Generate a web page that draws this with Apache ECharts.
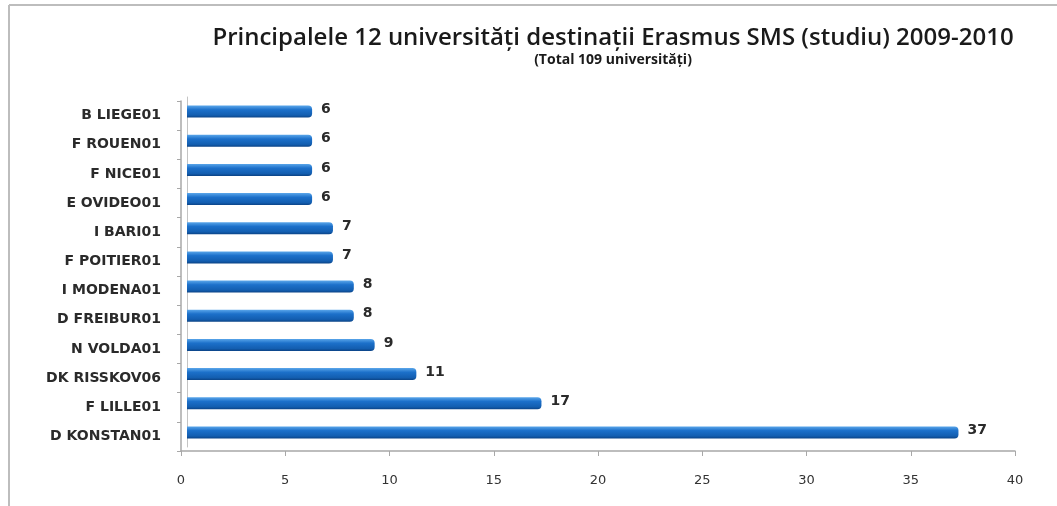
<!DOCTYPE html>
<html>
<head>
<meta charset="utf-8">
<script src="https://cdn.jsdelivr.net/npm/echarts@6/dist/echarts.min.js"></script>
<style>
html, body { margin: 0; padding: 0; background: #fff; }
#chart { width: 1057px; height: 506px; }
</style>
</head>
<body>
<div id="chart"></div>
<script>
// date din grafic (de jos in sus, cum le deseneaza axa categoriilor)
var universitati = ['D KONSTAN01', 'F LILLE01', 'DK RISSKOV06', 'N VOLDA01', 'D FREIBUR01', 'I MODENA01',
	'F POITIER01', 'I BARI01', 'E OVIDEO01', 'F NICE01', 'F ROUEN01', 'B LIEGE01'];
var studenti = [37, 17, 11, 9, 8, 8, 7, 7, 6, 6, 6, 6];
var xTicks = [0, 5, 10, 15, 20, 25, 30, 35, 40];

var chart = echarts.init(document.getElementById('chart'));

var barColor = new echarts.graphic.LinearGradient(0, 0, 0, 1, [
	{ offset: 0, color: '#5aa6ea' },
	{ offset: 0.35, color: '#1c70ca' },
	{ offset: 0.8, color: '#135eb0' },
	{ offset: 1, color: '#0b4386' }
]);

var axisGray = '#a8a8a8';

var options = {
	backgroundColor: '#fff',
	animation: false,
	title: {
		text: 'Principalele 12 universități destinații Erasmus SMS (studiu) 2009-2010',
		subtext: '(Total 109 universități)',
		left: 608,
		textAlign: 'center',
		top: 21,
		itemGap: 3,
		textStyle: {
			fontFamily: 'Open Sans',
			fontSize: 24,
			fontWeight: 600,
			color: '#1a1a1a'
		},
		subtextStyle: {
			fontFamily: 'Open Sans',
			fontSize: 14,
			fontWeight: 'bold',
			color: '#1a1a1a'
		}
	},
	// grid 0 = peretele din fata (axe, etichete), grid 1 = planul din spate (barele, efect 3D)
	grid: [
		{ left: 181, right: 42, top: 101, bottom: 55 },
		{ left: 187, right: 36, top: 97, bottom: 59 }
	],
	xAxis: [
		{
			type: 'value',
			gridIndex: 0,
			min: 0,
			max: 40,
			interval: 5,
			axisLine: { show: true, lineStyle: { color: axisGray, width: 1.5 } },
			axisTick: { show: true, length: 5, lineStyle: { color: axisGray } },
			splitLine: { show: false },
			axisLabel: {
				margin: 23,
				fontFamily: 'DejaVu Sans',
				fontSize: 13,
				color: '#333',
				formatter: function (v) { return xTicks.indexOf(v) >= 0 ? String(v) : ''; }
			}
		},
		{
			type: 'value',
			gridIndex: 1,
			min: 0,
			max: 40,
			interval: 5,
			axisLine: { show: false },
			axisTick: { show: false },
			axisLabel: { show: false },
			splitLine: { show: false }
		}
	],
	yAxis: [
		{
			type: 'category',
			gridIndex: 0,
			data: universitati,
			axisLine: { show: true, lineStyle: { color: axisGray, width: 1.5 } },
			axisTick: { show: true, length: 4, lineStyle: { color: axisGray } },
			axisLabel: {
				margin: 20,
				fontFamily: 'DejaVu Sans',
				fontSize: 14,
				fontWeight: 'bold',
				color: '#2a2a2a'
			}
		},
		{
			type: 'category',
			gridIndex: 1,
			data: universitati,
			axisLine: { show: true, lineStyle: { color: '#c4c4c4', width: 1 } },
			axisTick: { show: false },
			axisLabel: { show: false }
		}
	],
	series: [
		{
			name: 'Studenti',
			type: 'bar',
			xAxisIndex: 1,
			yAxisIndex: 1,
			data: studenti,
			barWidth: 12,
			itemStyle: {
				color: barColor,
				borderRadius: [0, 4, 4, 0]
			},
			label: {
				show: true,
				position: 'right',
				distance: 9,
				offset: [0, -2],
				fontFamily: 'DejaVu Sans',
				fontSize: 14,
				fontWeight: 'bold',
				color: '#2a2a2a'
			}
		}
	],
	graphic: [
		{ type: 'line', shape: { x1: 9, y1: 5, x2: 1057, y2: 5 }, style: { stroke: '#bdbdbd', lineWidth: 2 } },
		{ type: 'line', shape: { x1: 9, y1: 5, x2: 9, y2: 506 }, style: { stroke: '#bdbdbd', lineWidth: 2 } }
	]
};

chart.setOption(options);
</script>
</body>
</html>
